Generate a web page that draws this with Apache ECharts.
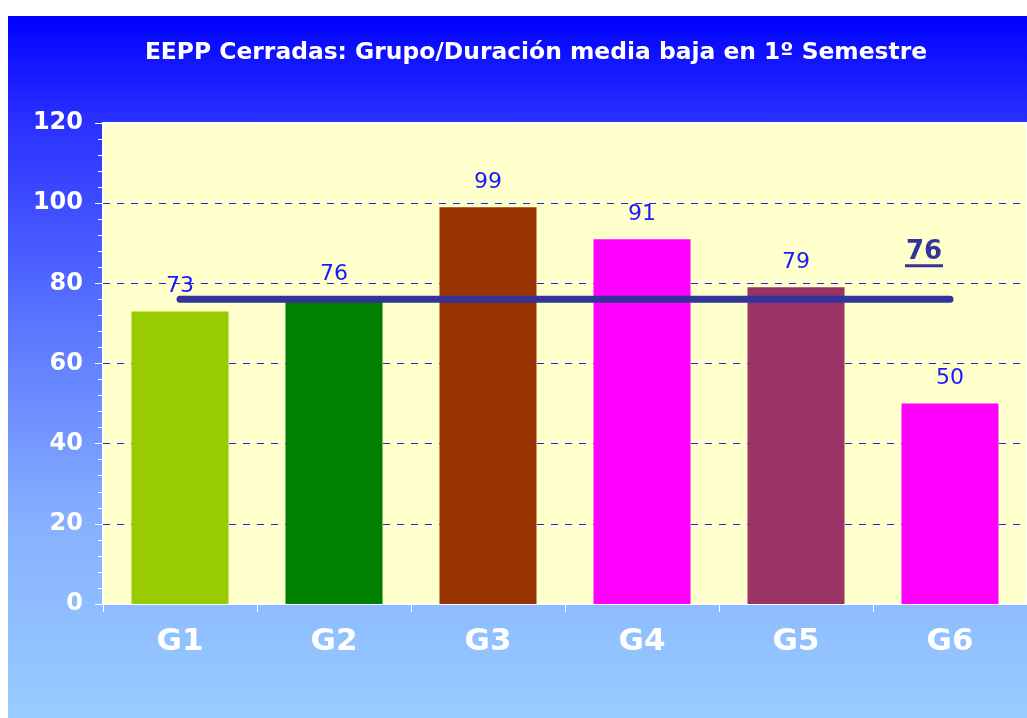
<!DOCTYPE html>
<html>
<head>
<meta charset="utf-8">
<script src="https://cdn.jsdelivr.net/npm/echarts@6/dist/echarts.min.js"></script>
<style>
  html, body { margin: 0; padding: 0; background: #ffffff; }
  #bg {
    position: absolute; left: 8px; top: 16px; width: 1019px; height: 702px;
    background: linear-gradient(to bottom, #0000ff 0%, #2a30ff 15%, #5c78ff 45%, #86b0ff 72%, #99ccff 100%);
  }
  #chart { position: absolute; left: 0; top: 0; width: 1027px; height: 718px; }
</style>
</head>
<body>
<div id="bg"></div>
<div id="chart"></div>
<script>
// Groups and their mean-duration values
const categories = ['G1', 'G2', 'G3', 'G4', 'G5', 'G6'];
const values = [73, 76, 99, 91, 79, 50];
const barColors = ['#99cc00', '#008000', '#993300', '#ff00ff', '#993366', '#ff00ff'];
const averageValue = 76;
const yTicks = [0, 20, 40, 60, 80, 100, 120];
// Inner dashed reference lines (the top one is the plot border)
const gridLevels = [20, 40, 60, 80, 100];

const FONT = '"DejaVu Sans", Verdana, sans-serif';
const chart = echarts.init(document.getElementById('chart'), null, { renderer: 'canvas' });

chart.setOption({
  backgroundColor: 'transparent',
  animation: false,
  title: {
    text: 'EEPP Cerradas: Grupo/Duración media baja en 1º Semestre',
    left: 531, top: 36, textAlign: 'center',
    textStyle: { color: '#ffffff', fontFamily: FONT, fontWeight: 'bold', fontSize: 23.4 }
  },
  grid: {
    left: 103, top: 123, width: 926, height: 481,
    show: true, backgroundColor: '#ffffcc', borderColor: '#ffffff', borderWidth: 2
  },
  xAxis: {
    type: 'category',
    data: categories,
    axisLine: { lineStyle: { color: '#ffffff', width: 2 } },
    axisTick: { show: true, length: 8, lineStyle: { color: '#ffffff', width: 1 } },
    axisLabel: { color: '#ffffff', fontFamily: FONT, fontWeight: 'bold', fontSize: 31, margin: 22 }
  },
  yAxis: {
    type: 'value',
    min: yTicks[0], max: yTicks[yTicks.length - 1], interval: 20,
    axisLine: { show: true, lineStyle: { color: '#ffffff', width: 2 } },
    axisTick: { show: true, length: 8, lineStyle: { color: '#ffffff', width: 1 } },
    minorTick: { show: true, splitNumber: 5, length: 5, lineStyle: { color: '#ffffff', width: 1 } },
    axisLabel: { color: '#ffffff', fontFamily: FONT, fontWeight: 'bold', fontSize: 24, margin: 20 },
    splitLine: { show: false }
  },
  series: [
    {
      type: 'bar',
      data: values.map((v, i) => ({ value: v, itemStyle: { color: barColors[i] } })),
      barWidth: '63%',
      label: {
        show: true, position: 'top', distance: 14,
        color: '#1a1aff', fontFamily: FONT, fontSize: 22
      },
      markLine: {
        silent: true,
        symbol: 'none',
        label: { show: false },
        lineStyle: { color: '#2525e8', width: 1, type: [7, 7] },
        z: 1,
        data: gridLevels.map(v => ({ yAxis: v }))
      }
    },
    {
      type: 'line',
      data: categories.map(() => averageValue),
      showSymbol: false,
      symbol: 'none',
      lineStyle: { color: '#333399', width: 7, cap: 'round' },
      z: 5
    }
  ]
});

// Average value label, bold and underlined, above the end of the line
const p = chart.convertToPixel({ xAxisIndex: 0, yAxisIndex: 0 }, [categories.length - 1, averageValue]);
const lx = p[0] - 26, ly = p[1] - 47;
chart.setOption({
  graphic: [
    {
      type: 'text', x: lx, y: ly, z: 10,
      style: {
        text: String(averageValue), fill: '#333399',
        font: 'bold 26px ' + FONT, align: 'center', verticalAlign: 'middle'
      }
    },
    {
      type: 'rect', z: 10,
      shape: { x: lx - 19, y: ly + 12, width: 38, height: 3 },
      style: { fill: '#333399' }
    }
  ]
});
</script>
</body>
</html>
